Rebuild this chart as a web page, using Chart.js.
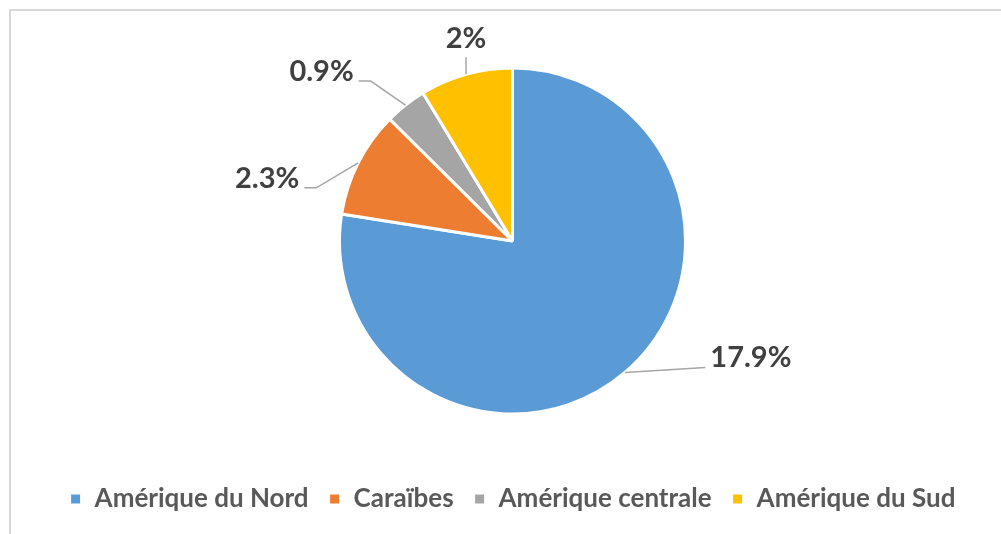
<!DOCTYPE html>
<html lang="fr">
<head>
  <meta charset="UTF-8" />
  <title>Répartition par région</title>
  <script src="https://cdn.jsdelivr.net/npm/chart.js"></script>
  <style>
    html, body { margin: 0; padding: 0; background: #fff; }
    #wrap { width: 1001px; height: 534px; }
  </style>
</head>
<body>
  <div id="wrap">
    <canvas id="pieCanvas" width="1001" height="534"></canvas>
  </div>

  <script>
    const regions = ['Amérique du Nord', 'Caraïbes', 'Amérique centrale', 'Amérique du Sud'];
    const shares = [17.9, 2.3, 0.9, 2];
    const sliceColors = ['#5b9bd5', '#ed7d31', '#a5a5a5', '#ffc000'];

    // where each value label sits, relative to the point on the slice edge
    const labelOffsets = [[126, -15], [-91, 16], [-84, -33], [0, -36]];

    const frame = {
      id: 'frame',
      beforeDraw(chart) {
        const c = chart.ctx;
        c.save();
        c.strokeStyle = '#d9d9d9';
        c.lineWidth = 2;
        c.beginPath();
        c.moveTo(10, chart.height);
        c.lineTo(10, 10);
        c.lineTo(chart.width, 10);
        c.stroke();
        c.restore();
      }
    };

    const outsideLabels = {
      id: 'outsideLabels',
      afterDatasetsDraw(chart) {
        const c = chart.ctx;
        const meta = chart.getDatasetMeta(0);
        c.save();
        c.font = 'bold 29px Lato';
        c.textAlign = 'center';
        c.textBaseline = 'middle';
        meta.data.forEach((arc, i) => {
          const mid = (arc.startAngle + arc.endAngle) / 2;
          const ax = arc.x + Math.cos(mid) * arc.outerRadius;
          const ay = arc.y + Math.sin(mid) * arc.outerRadius;
          const tx = ax + labelOffsets[i][0];
          const ty = ay + labelOffsets[i][1];
          const text = shares[i] + '%';
          const w = c.measureText(text).width;

          c.strokeStyle = '#a6a6a6';
          c.lineWidth = 1.5;
          c.beginPath();
          c.moveTo(ax, ay);
          if (Math.abs(labelOffsets[i][0]) < 10) {
            c.lineTo(tx, ty + 19);
          } else if (labelOffsets[i][0] > 0) {
            c.lineTo(tx - w / 2 - 5, ty + 10);
          } else {
            c.lineTo(tx + w / 2 + 17, ty + 9);
            c.lineTo(tx + w / 2 + 5, ty + 9);
          }
          c.stroke();

          c.fillStyle = '#404040';
          c.fillText(text, tx, ty);
        });
        c.restore();
      }
    };

    new Chart(document.getElementById('pieCanvas'), {
      type: 'pie',
      data: {
        labels: regions,
        datasets: [{
          data: shares,
          backgroundColor: sliceColors,
          borderColor: '#ffffff',
          borderWidth: 3,
          radius: 173
        }]
      },
      options: {
        responsive: false,
        animation: false,
        layout: { padding: { left: 24, top: 16, bottom: 12 } },
        plugins: {
          tooltip: { enabled: false },
          legend: {
            position: 'bottom',
            labels: {
              boxWidth: 12,
              boxHeight: 12,
              padding: 20,
              color: '#595959',
              font: { family: 'Lato', size: 26, weight: 'bold' }
            }
          }
        }
      },
      plugins: [frame, outsideLabels]
    });
  </script>
</body>
</html>
